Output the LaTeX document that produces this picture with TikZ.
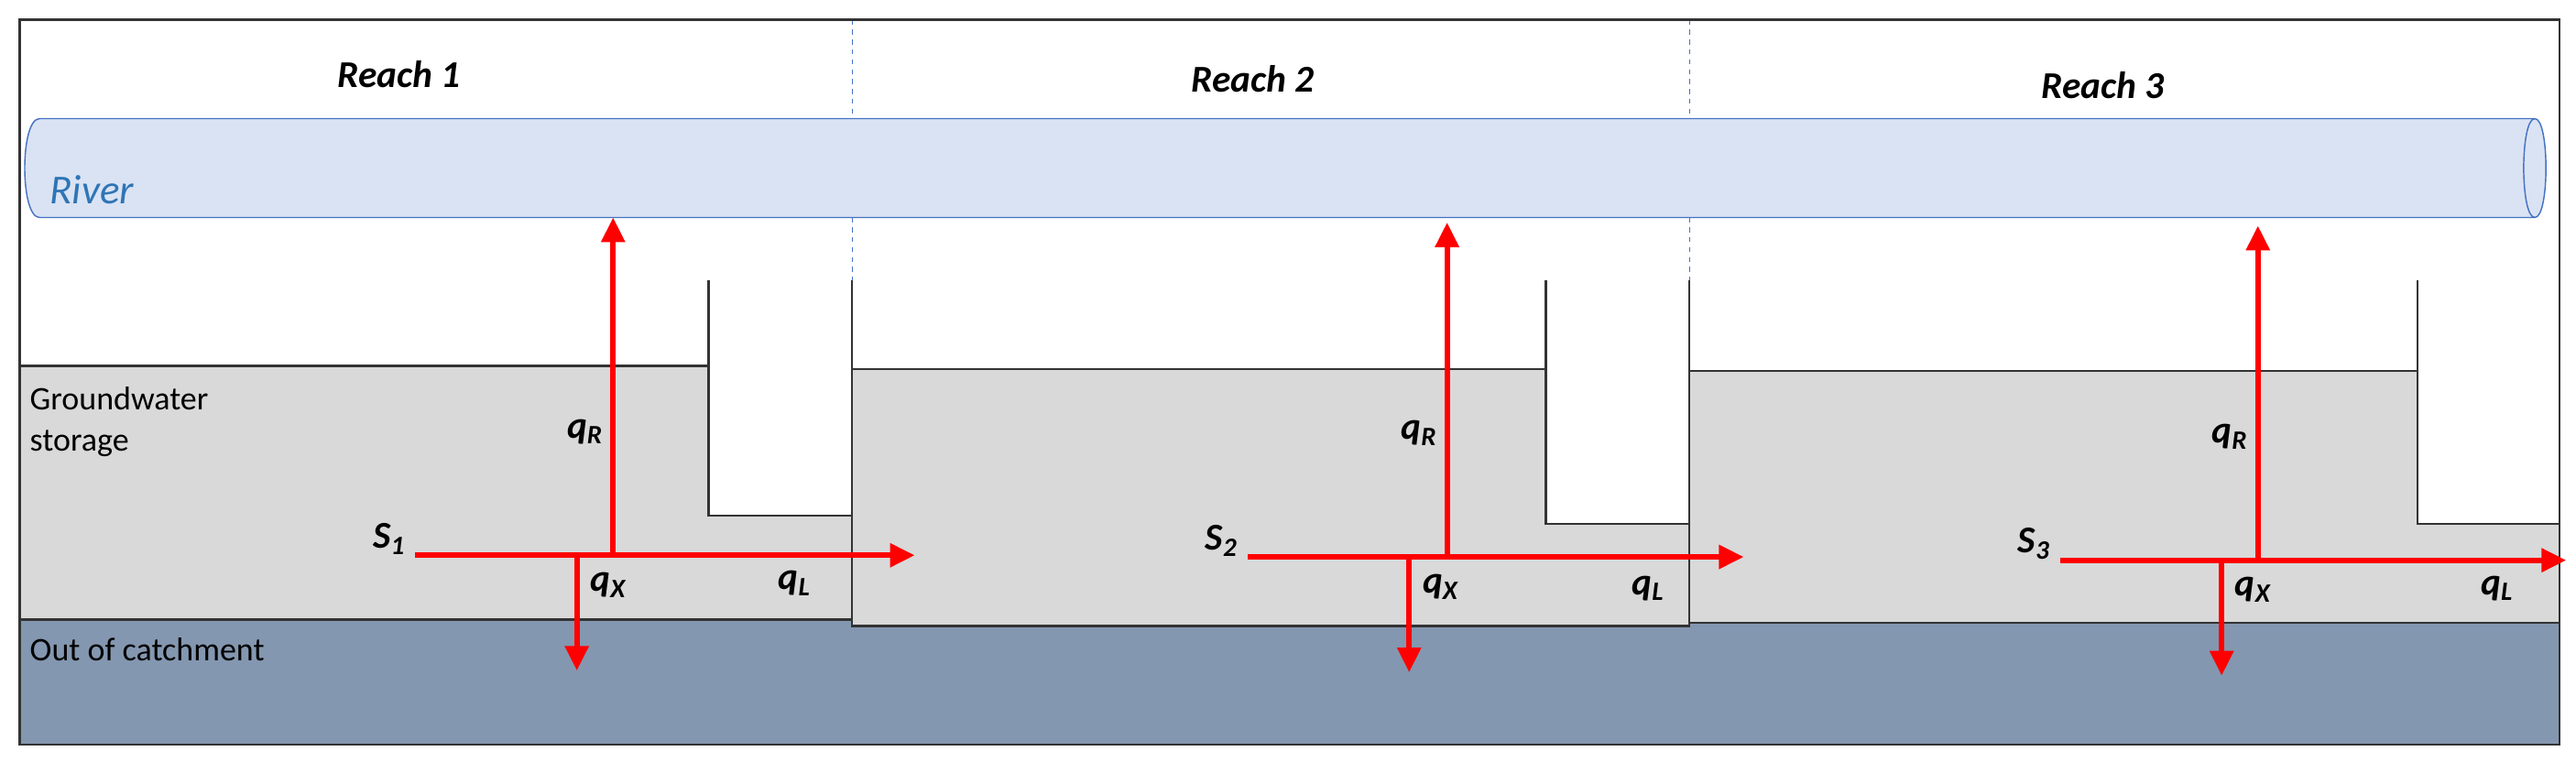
\documentclass[tikz,border=0pt]{standalone}
\usepackage{fontspec}
\setmainfont{Carlito}
\usetikzlibrary{arrows.meta}
\definecolor{riverfill}{HTML}{DAE3F3}
\definecolor{riverline}{HTML}{4472C4}
\definecolor{rivertext}{HTML}{2E75B6}
\definecolor{gwfill}{HTML}{D9D9D9}
\definecolor{outfill}{HTML}{8497B0}
\begin{document}
\begin{tikzpicture}[x=1pt, y=-1pt]
\tikzset{lbl/.style={font=\fontsize{23}{25}\selectfont\bfseries\itshape, inner sep=0pt}}
\tikzset{txt/.style={font=\fontsize{20}{25}\selectfont, inner sep=0pt, anchor=west, align=left}}
\tikzset{flux/.style={draw=red, line width=3.2pt, -{Triangle[length=15pt, width=14pt]}}}
\tikzset{wall/.style={draw=black!80, line width=1.3pt}}
\useasboundingbox (0,0) rectangle (1563,462);
% background layers
\fill[white] (12,12) rectangle (1553,452);
\fill[outfill] (12,376) rectangle (1553,452);
\fill[gwfill] (12,222) -- (430,222) -- (430,313) -- (517,313) -- (517,376) -- (12,376) -- cycle;
\fill[gwfill] (517,224) -- (938,224) -- (938,318) -- (1025,318) -- (1025,380) -- (517,380) -- cycle;
\fill[gwfill] (1025,225) -- (1467,225) -- (1467,318) -- (1553,318) -- (1553,378) -- (1025,378) -- cycle;
\draw[wall] (12,222) -- (430,222) (430,170) -- (430,313) -- (517,313);
\draw[wall] (517,170) -- (517,380) -- (1025,380) -- (1025,170);
\draw[wall] (517,224) -- (938,224) (938,170) -- (938,318) -- (1025,318);
\draw[wall] (1025,225) -- (1467,225) (1467,170) -- (1467,318) -- (1553,318);
\draw[wall] (12,376) -- (517,376) (1025,378) -- (1553,378);
\draw[dashed, riverline, thin] (517,12) -- (517,170) (1025,12) -- (1025,170);
% river
\draw[riverline, fill=riverfill, thick] (24,72) -- (1538,72) .. controls (1547,72) and (1547,132) .. (1538,132) -- (24,132) .. controls (12,132) and (12,72) .. (24,72) -- cycle;
\draw[riverline, thick] (1538,72) .. controls (1529,72) and (1529,132) .. (1538,132);
\node[font=\fontsize{25}{27}\selectfont\itshape, text=rivertext, anchor=west, inner sep=0pt] (river) at (30,115) {River};
\draw[wall] (12,12) rectangle (1553,452);
% labels
\node[lbl] (r1) at (242,45) {Reach 1};
\node[lbl] (r2) at (760,48) {Reach 2};
\node[lbl] (r3) at (1276,52) {Reach 3};
\node[txt] (gw) at (18,256) {Groundwater\\storage};
\node[txt] (out) at (18,394) {Out of catchment};
% fluxes
\foreach \i/\xa/\xb/\xu/\xd/\yh/\yt in {1/252/555/372/350/337/132, 2/757/1058/878/855/338/135, 3/1250/1557/1370/1348/340/137}{
  \coordinate (s\i) at (\xa,\yh);
  \coordinate (l\i) at (\xb,\yh);
  \coordinate (u\i) at (\xu,\yh);
  \coordinate (ut\i) at (\xu,\yt);
  \coordinate (d\i) at (\xd,\yh);
  \coordinate (dt\i) at (\xd,\yh+70);
  \draw[flux] (s\i) -- (l\i);
  \draw[flux] (u\i) -- (ut\i);
  \draw[flux] (d\i) -- (dt\i);
  \node[lbl, anchor=east] (S\i) at ([xshift=-6pt, yshift=10pt]s\i) {S\textsubscript{\i}};
  \node[lbl, anchor=east] (qR\i) at ([xshift=-6pt, yshift=75pt]u\i) {q\textsubscript{R}};
  \node[lbl, anchor=west] (qX\i) at ([xshift=8pt, yshift=-18pt]d\i) {q\textsubscript{X}};
}
\node[lbl] (qL1) at (482,354) {q\textsubscript{L}};
\node[lbl] (qL2) at (1000,357) {q\textsubscript{L}};
\node[lbl] (qL3) at (1515,357) {q\textsubscript{L}};
\end{tikzpicture}
\end{document}
